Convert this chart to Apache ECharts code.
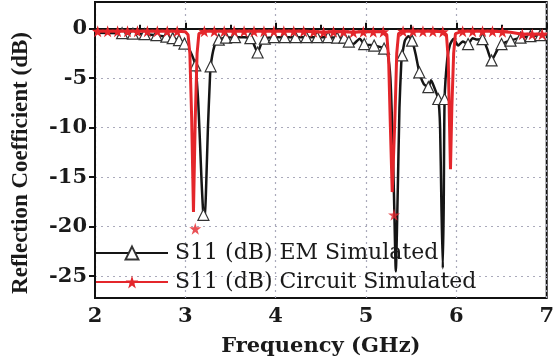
<!DOCTYPE html>
<html>
<head>
<meta charset="utf-8">
<script src="https://cdn.jsdelivr.net/npm/echarts@6/dist/echarts.min.js"></script>
<style>
html,body{margin:0;padding:0;background:#fff;}
#chart{width:557px;height:362px;}
</style>
</head>
<body>
<div id="chart"></div>
<script>
// ---- Data ----
const xTicks = [2, 3, 4, 5, 6, 7];
const yTicks = [0, -5, -10, -15, -20, -25];

// EM simulated S11 (black, triangles); emMark: 1 = point carries a triangle marker
const emFreq = [2.00,2.30,2.42,2.55,2.68,2.79,2.86,2.93,2.99,3.05,3.11,3.14,3.16,3.18,3.20,3.215,3.23,3.25,3.27,3.28,3.32,3.37,3.45,3.55,3.65,3.72,3.76,3.80,3.84,3.88,3.98,4.10,4.22,4.34,4.46,4.58,4.68,4.76,4.81,4.86,4.93,4.98,5.09,5.20,5.24,5.27,5.29,5.31,5.33,5.35,5.37,5.39,5.40,5.43,5.47,5.51,5.55,5.59,5.64,5.69,5.72,5.75,5.80,5.82,5.835,5.85,5.86,5.87,5.90,5.93,5.97,6.02,6.07,6.13,6.18,6.23,6.29,6.34,6.39,6.45,6.50,6.60,6.71,6.82,6.93,7.00];
const emS11  = [-0.4,-0.45,-0.5,-0.55,-0.65,-0.8,-0.95,-1.15,-1.5,-2.2,-3.7,-7,-11,-15.5,-18.8,-19.2,-16,-10,-5.5,-3.8,-1.8,-1.1,-0.9,-0.85,-0.85,-0.95,-1.6,-2.4,-1.5,-1.0,-0.85,-0.85,-0.85,-0.85,-0.85,-0.85,-0.9,-0.9,-1.3,-1.55,-1.0,-1.55,-1.7,-2.0,-2.6,-5,-10,-17,-24.5,-17,-8,-3.5,-2.7,-1.2,-0.75,-1.2,-2.6,-4.4,-5.6,-5.9,-5.2,-5.8,-7.1,-10,-18,-24.2,-18,-7.1,-3.0,-1.6,-1.0,-1.7,-1.3,-1.55,-0.95,-1.1,-1.05,-2.0,-3.2,-2.2,-1.55,-1.2,-0.9,-0.75,-0.65,-0.6];
const emMark = [0,1,1,1,1,1,1,1,1,0,1,0,0,0,1,0,0,0,0,1,0,1,1,1,0,1,0,1,0,1,1,1,1,1,1,1,1,1,1,0,0,1,1,1,0,0,0,0,0,0,0,0,1,0,0,1,0,1,0,1,0,0,1,0,0,0,0,1,0,0,0,0,0,1,0,0,1,0,1,0,1,1,1,1,1,0];

// Circuit simulated S11 (red, stars); circMark: 1 = point carries a star marker
const circFreq = [2.00,2.03,2.14,2.25,2.36,2.47,2.58,2.69,2.80,2.91,3.00,3.03,3.05,3.07,3.09,3.11,3.13,3.15,3.21,3.32,3.43,3.54,3.65,3.76,3.87,3.98,4.09,4.20,4.31,4.42,4.53,4.64,4.75,4.86,4.97,5.08,5.19,5.23,5.25,5.27,5.29,5.30,5.32,5.34,5.36,5.41,5.52,5.63,5.74,5.85,5.89,5.91,5.925,5.935,5.95,5.97,5.99,6.07,6.18,6.29,6.40,6.51,6.60,6.62,6.73,6.84,6.95,7.00];
const circS11  = [-0.25,-0.25,-0.25,-0.25,-0.25,-0.25,-0.25,-0.25,-0.25,-0.25,-0.3,-0.6,-2.5,-9,-18.5,-9,-2.5,-0.5,-0.25,-0.25,-0.25,-0.25,-0.25,-0.25,-0.25,-0.25,-0.25,-0.25,-0.25,-0.3,-0.35,-0.3,-0.3,-0.35,-0.3,-0.3,-0.3,-0.6,-3,-10,-16.5,-16.5,-9,-2.5,-0.5,-0.25,-0.25,-0.25,-0.25,-0.3,-0.6,-3,-10,-14.2,-8,-2.5,-0.5,-0.25,-0.25,-0.25,-0.25,-0.3,-0.35,-0.55,-0.55,-0.55,-0.55,-0.55];
const circMark = [0,1,1,1,1,1,1,1,1,1,0,0,0,0,0,0,0,0,1,1,1,1,1,1,1,1,1,1,1,1,1,1,1,1,1,1,1,0,0,0,0,0,0,0,0,1,1,1,1,1,0,0,0,0,0,0,0,1,1,1,1,1,0,0,1,1,1,0];

// detached star markers below two circuit resonances
const circExtraFreq = [3.11, 5.31];
const circExtraS11  = [-20.2, -18.8];

const nameEM = 'S11 (dB) EM Simulated';
const nameCirc = 'S11 (dB) Circuit Simulated';

// ---- Build series data ----
function build(fx, fy, marks) {
  return fx.map((x, i) => marks[i] ? { value: [x, fy[i]] } : { value: [x, fy[i]], symbol: 'none' });
}

const RED = '#e4262b';
const BLACK = '#151515';
const serifBold = '"DejaVu Serif", "Liberation Serif", serif';
const STAR = 'path://M50,0 L61,35 L98,35 L68,57 L79,91 L50,70 L21,91 L32,57 L2,35 L39,35 Z';

const chart = echarts.init(document.getElementById('chart'), null, { renderer: 'canvas' });
chart.setOption({
  animation: false,
  backgroundColor: '#fff',
  grid: {
    left: 95, right: 3.5, top: 2, bottom: 57,
    show: true, borderColor: '#111', borderWidth: 2, backgroundColor: 'transparent'
  },
  legend: {
    orient: 'vertical',
    left: 95, top: 242,
    padding: 0,
    itemWidth: 72, itemHeight: 16, itemGap: 7,
    data: [nameEM, nameCirc],
    textStyle: { fontFamily: '"DejaVu Serif", serif', fontSize: 22, lineHeight: 22, color: '#1a1a1a', padding: [0,0,0,2] }
  },
  xAxis: {
    type: 'value', min: 2, max: 7, interval: 1,
    name: 'Frequency (GHz)', nameLocation: 'middle', nameGap: 38,
    nameTextStyle: { fontFamily: serifBold, fontWeight: 'bold', fontSize: 21, color: '#1a1a1a' },
    axisLine: { show: true, lineStyle: { color: '#111', width: 2 } },
    axisTick: { show: true, inside: true, length: 6, lineStyle: { color: '#111', width: 2 } },
    minorTick: { show: true, splitNumber: 2, length: 4, lineStyle: { color: '#111', width: 2 } },
    axisLabel: { fontFamily: serifBold, fontWeight: 'bold', fontSize: 21, color: '#1a1a1a', margin: 8 },
    splitLine: { show: true, lineStyle: { color: '#aab', type: [2, 4], width: 1.2 } }
  },
  yAxis: {
    type: 'value', min: -27.2, max: 2.7,
    name: 'Reflection Coefficient (dB)', nameLocation: 'middle', nameGap: 62, nameRotate: 90,
    nameTextStyle: { fontFamily: '"Liberation Serif", serif', fontWeight: 'bold', fontSize: 23, color: '#1a1a1a', padding: [0, 26, 0, 0] },
    axisLine: { show: true, lineStyle: { color: '#111', width: 2 } },
    axisTick: { show: true, inside: false, length: 6, customValues: yTicks, lineStyle: { color: '#111', width: 2 } },
    axisLabel: { customValues: yTicks, fontFamily: serifBold, fontWeight: 'bold', fontSize: 21, color: '#1a1a1a', margin: 8 },
    splitLine: { show: true, lineStyle: { color: '#aab', type: [2, 4], width: 1.2 } }
  },
  series: [
    {
      name: nameEM, type: 'line', z: 2,
      data: build(emFreq, emS11, emMark),
      symbol: 'triangle', symbolSize: 11,
      smooth: 0.2,
      lineStyle: { color: BLACK, width: 2.5 },
      itemStyle: { color: '#fff', borderColor: '#333', borderWidth: 1.2 }
    },
    {
      name: nameCirc, type: 'line', z: 3,
      data: build(circFreq, circS11, circMark),
      symbol: STAR, symbolSize: 12,
      lineStyle: { color: RED, width: 3 },
      itemStyle: { color: RED, borderWidth: 0 }
    },
    {
      name: nameCirc, type: 'scatter', z: 3,
      data: circExtraFreq.map((x, i) => [x, circExtraS11[i]]),
      symbol: STAR, symbolSize: 12,
      itemStyle: { color: RED }
    }
  ]
});
</script>
</body>
</html>
